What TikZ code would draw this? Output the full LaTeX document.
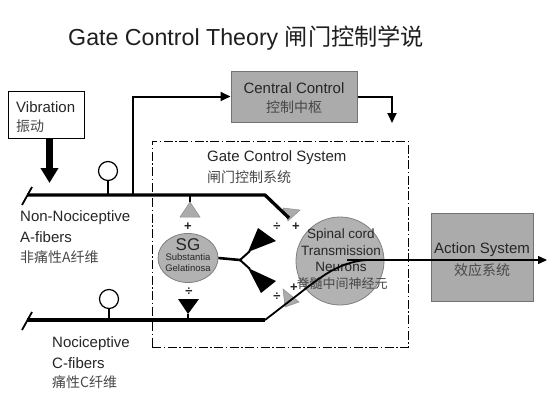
\documentclass[tikz,border=0pt]{standalone}
\usepackage{fontspec}
\setmainfont{Liberation Sans}
\newfontfamily\cjk{Noto Sans CJK SC}
\usetikzlibrary{arrows.meta,shapes.geometric}
\begin{document}
\begin{tikzpicture}[x=1pt,y=-1pt,
  lbl/.style={inner sep=0pt, font=\fontsize{15}{18}\selectfont, text=black!85},
  cjklbl/.style={inner sep=0pt, font=\fontsize{14}{16}\cjk, text=black!72},
  small/.style={inner sep=0pt, font=\fontsize{13.5}{16}\selectfont, text=black!85},
  smallcjk/.style={inner sep=0pt, font=\fontsize{13}{16}\cjk, text=black!72},
  graybox/.style={draw=black!55, fill=black!33, line width=1pt, inner sep=0pt},
  grayblob/.style={draw=black!50, fill=black!30, line width=0.8pt, inner sep=0pt},
  fiber/.style={line width=3.3pt},
  link/.style={line width=2pt, -{Triangle[length=10pt,width=9pt]}},
  signmark/.style={inner sep=0pt, font=\fontsize{13}{14}\bfseries, text=black!85},
  syn/.style={fill=black!33, draw=black!45, line width=0.5pt},
  slash/.style={line width=1.8pt},
]
\useasboundingbox (0,0) rectangle (556,412);
\fill[white] (0,0) rectangle (556,412);

% title
\node[anchor=west, inner sep=0pt, font=\fontsize{23.2}{27}\selectfont, text=black!88] (title) at (68,38) {Gate Control Theory {\cjk 闸门控制学说}};

% vibration
\node[draw, line width=1pt, minimum width=76pt, minimum height=47pt, inner sep=0pt] (vib) at (46,114.5) {};
\node[lbl, anchor=west] (vibt1) at (16,107) {Vibration};
\node[cjklbl, anchor=west] (vibt2) at (16,126) {振动};
\coordinate (vibtip) at (49.5,183);
\draw[line width=7pt, -{Triangle[length=15pt,width=17pt]}] (vib.south -| vibtip) -- (vibtip);

% central control
\node[graybox, minimum width=126pt, minimum height=51pt] (cc) at (294,96.5) {};
\node[lbl] (cct1) at (294,88) {Central Control};
\node[cjklbl] (cct2) at (294,107) {控制中枢};

% gate control system box
\node[draw, line width=0.9pt, dash pattern=on 9pt off 2.5pt on 1.5pt off 2.5pt, minimum width=256pt, minimum height=206pt, inner sep=0pt] (gcs) at (280,244) {};
\node[lbl, anchor=west] (gcst1) at (207,158) {Gate Control System};
\node[cjklbl, anchor=west] (gcst2) at (207,177) {闸门控制系统};

% fibers coordinates
\coordinate (a0) at (27,195);
\coordinate (a1) at (265,195);
\coordinate (a2) at (289,218);
\coordinate (c0) at (27,320);
\coordinate (c1) at (265,320);
\coordinate (c2) at (287,303);
\coordinate (c3) at (367,260);
\coordinate (br) at (133,195);
\coordinate (ccdown) at (392,123);

% T cell
\node[circle, grayblob, minimum size=88pt] (tc) at (340,261) {};
\node[small] (tct1) at (341,235) {Spinal cord};
\node[small] (tct2) at (341,251) {Transmission};
\node[small] (tct3) at (341,267) {Neurons};
\node[smallcjk] (tct4) at (342,284) {脊髓中间神经元};

% action system
\node[graybox, minimum width=102pt, minimum height=88pt] (act) at (482,257) {};
\node[lbl] (actt1) at (482,250) {Action System};
\node[cjklbl] (actt2) at (482,270) {效应系统};

% synapse triangles
\path[syn] (283,208) -- (300,210) -- (288,221) -- cycle;
\path[syn] (283,289) -- (299,302) -- (285,307) -- cycle;

% fibers
\draw[slash] (22,205) -- (32,187);
\draw[slash] (22,330) -- (32,312);
\draw[fiber, line join=round] (a0) -- (a1) -- (a2);
\draw[fiber] (c0) -- (c1);
\draw[line width=1.8pt, line join=round] (c1) -- (c2) .. controls (315,282) and (335,262) .. (c3);

% receptors
\node[circle, draw, line width=1.2pt, minimum size=19pt, inner sep=0pt] (r1) at (108,171) {};
\draw[line width=1.2pt] (r1.south) -- (r1.south |- a0);
\node[circle, draw, line width=1.2pt, minimum size=19pt, inner sep=0pt] (r2) at (109,299) {};
\draw[line width=1.2pt] (r2.south) -- (r2.south |- c0);

% links to central control
\draw[link] (br) |- (cc.west);
\draw[link] (cc.east) -| (ccdown);

% SG
\coordinate (sgtop) at (190,202);
\draw[line width=1.2pt] (sgtop |- a0) -- (sgtop);
\path[syn] (sgtop) -- (200,217) -- (180,217) -- cycle;
\node[signmark] (p1) at (188,227) {+};
\node[ellipse, grayblob, minimum width=60pt, minimum height=49pt] (sg) at (188,258) {};
\node[inner sep=0pt, font=\fontsize{17}{18}\selectfont, text=black!85] (sgt1) at (188,245) {SG};
\node[inner sep=0pt, font=\fontsize{9.5}{10}\selectfont, text=black!85] (sgt2) at (188,257.5) {Substantia};
\node[inner sep=0pt, font=\fontsize{9.5}{10}\selectfont, text=black!85] (sgt3) at (188,268.5) {Gelatinosa};
\node[signmark] (d1) at (189,292) {÷};
\coordinate (sgbot) at (188,314);
\fill (178,299) -- (199,299) -- (sgbot) -- cycle;
\draw[line width=1.5pt] (sgbot) -- (sgbot |- c0);

% fork
\coordinate (fork) at (240,260);
\draw[line width=2.6pt] (sg.east) -- (fork);
\draw[line width=2pt] (fork) -- (250,251);
\draw[line width=2pt] (fork) -- (250,269);
\fill (248,252) -- (258,228) -- (276,241) -- cycle;
\fill (248,268) -- (261,293) -- (276,281) -- cycle;

% marks at synapses
\node[signmark] (d2) at (277,227) {÷};
\node[signmark] (p2) at (296,227) {+};
\node[signmark] (d3) at (277,297) {÷};
\node[signmark] (p3) at (294,288) {+};

% output
\coordinate (tout) at (347,260);
\coordinate (aout) at (547,260);
\draw[line width=1.4pt, -{Triangle[length=9pt,width=8pt]}] (tout) -- (aout);

% fiber labels
\node[lbl, anchor=west] (nn1) at (20,218) {Non-Nociceptive};
\node[lbl, anchor=west] (nn2) at (20,237) {A-fibers};
\node[cjklbl, anchor=west] (nn3) at (20,257) {非痛性A纤维};
\node[lbl, anchor=west] (nc1) at (52,344) {Nociceptive};
\node[lbl, anchor=west] (nc2) at (52,363) {C-fibers};
\node[cjklbl, anchor=west] (nc3) at (52,382) {痛性C纤维};
\end{tikzpicture}
\end{document}
